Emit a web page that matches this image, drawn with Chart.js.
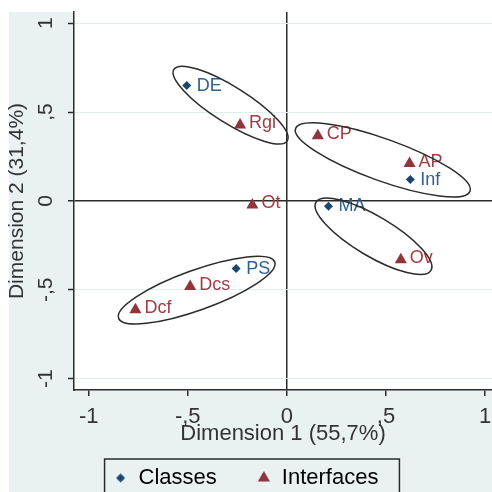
<!DOCTYPE html>
<html>
<head>
<meta charset="utf-8">
<script src="https://cdn.jsdelivr.net/npm/chart.js@4/dist/chart.umd.min.js"></script>
<style>
  html, body { margin: 0; padding: 0; background: #fff; }
  #wrap { width: 492px; height: 492px; position: relative; }
</style>
</head>
<body>
<div id="wrap"><canvas id="grafico"></canvas></div>
<script>
const classLabels = ["DE", "Inf", "MA", "PS"];
const classX = [-0.505, 0.623, 0.210, -0.256];
const classY = [0.649, 0.120, -0.030, -0.381];

const interfaceLabels = ["Rgi", "CP", "AP", "Ot", "Ov", "Dcs", "Dcf"];
const interfaceX = [-0.236, 0.156, 0.619, -0.174, 0.575, -0.488, -0.764];
const interfaceY = [0.427, 0.367, 0.210, -0.023, -0.331, -0.481, -0.612];

const tickValues = [-1, -0.5, 0, 0.5, 1];

// grupos circulados: centro, meio eixo maior (vetor), meio eixo menor
const ellipseCX = [-0.284, 0.484, 0.437, -0.455];
const ellipseCY = [0.539, 0.231, -0.199, -0.502];
const ellipseAX = [0.286, 0.440, 0.290, 0.394];
const ellipseAY = [-0.201, -0.176, -0.192, 0.158];
const ellipseB = [0.091, 0.106, 0.101, 0.101];

const FONT = "'Liberation Sans', Arial, sans-serif";
const AXIS = "#2b2b2b";
const TEXT = "#333";
const BLUE = "#1a476f";
const RED = "#90353b";

const fmt = v => v === 0 ? "0" : String(v).replace("0.", ",");
const setTicks = s => { s.ticks = tickValues.map(v => ({ value: v })); };
const isZero = c => c.tick && c.tick.value === 0;

function legendIcon(style, color, radius) {
  const c = document.createElement("canvas");
  const size = Math.ceil(radius * 2 + 2);
  c.width = size;
  c.height = size;
  const g = c.getContext("2d");
  g.fillStyle = color;
  Chart.helpers.drawPoint(g, { pointStyle: style, radius, rotation: 0, borderWidth: 0 }, size / 2, size / 2);
  return c;
}

const fundo = {
  id: "fundo",
  beforeDraw(chart) {
    const { ctx, width, height, chartArea: a } = chart;
    ctx.save();
    ctx.fillStyle = "#fff";
    ctx.fillRect(0, 0, width, height);
    ctx.fillStyle = "#eaf1f3";
    ctx.fillRect(9, 12, width - 9, height - 12);
    ctx.fillStyle = "#fff";
    ctx.fillRect(a.left, a.top, a.right - a.left, a.bottom - a.top);
    ctx.restore();
  }
};

const rotulos = {
  id: "rotulos",
  afterDatasetsDraw(chart) {
    const ctx = chart.ctx;
    const xs = chart.scales.x, ys = chart.scales.y;
    ctx.save();
    ctx.font = "18px " + FONT;
    ctx.textBaseline = "middle";
    ctx.textAlign = "left";
    chart.data.datasets.forEach((ds, i) => {
      const names = i === 0 ? classLabels : interfaceLabels;
      ctx.fillStyle = i === 0 ? "#2e5f92" : "#a33c44";
      const dx = i === 0 ? 10 : 9;
      const dy = i === 0 ? 0 : -1.5;
      chart.getDatasetMeta(i).data.forEach((pt, j) => {
        ctx.fillText(names[j], pt.x + dx, pt.y + dy);
      });
    });

    // elipses dos grupos
    ctx.strokeStyle = AXIS;
    ctx.lineWidth = 1.5;
    ellipseCX.forEach((cx, k) => {
      const px = xs.getPixelForValue(cx);
      const py = ys.getPixelForValue(ellipseCY[k]);
      const ex = xs.getPixelForValue(cx + ellipseAX[k]);
      const ey = ys.getPixelForValue(ellipseCY[k] + ellipseAY[k]);
      const a = Math.hypot(ex - px, ey - py);
      const b = Math.abs(xs.getPixelForValue(ellipseB[k]) - xs.getPixelForValue(0));
      ctx.beginPath();
      ctx.ellipse(px, py, a, b, Math.atan2(ey - py, ex - px), 0, Math.PI * 2);
      ctx.stroke();
    });
    ctx.restore();
  }
};

const moldura = {
  id: "moldura",
  afterDraw(chart) {
    const boxes = chart.legend && chart.legend.legendHitBoxes;
    if (!boxes || !boxes.length) return;
    const first = boxes[0];
    const last = boxes[boxes.length - 1];
    const ctx = chart.ctx;
    const left = first.left - 9;
    ctx.save();
    ctx.strokeStyle = AXIS;
    ctx.lineWidth = 1.5;
    ctx.strokeRect(left, first.top - 8, last.left + last.width + 21 - left, 60);
    ctx.restore();
  }
};

const icons = [legendIcon("rectRot", BLUE, 4.5), legendIcon("triangle", RED, 7)];

new Chart(document.getElementById("grafico"), {
  type: "scatter",
  data: {
    datasets: [
      {
        label: "Classes",
        data: classX.map((x, i) => ({ x, y: classY[i] })),
        pointStyle: "rectRot",
        pointRadius: 4.5,
        backgroundColor: BLUE,
        borderColor: BLUE,
        pointBorderWidth: 0
      },
      {
        label: "Interfaces",
        data: interfaceX.map((x, i) => ({ x, y: interfaceY[i] })),
        pointStyle: "triangle",
        pointRadius: 7,
        backgroundColor: RED,
        borderColor: RED,
        pointBorderWidth: 0
      }
    ]
  },
  options: {
    responsive: true,
    maintainAspectRatio: false,
    animation: false,
    events: [],
    layout: { autoPadding: false, padding: { top: 12, right: 0, bottom: -7, left: 0 } },
    plugins: {
      tooltip: { enabled: false },
      legend: {
        position: "bottom",
        labels: {
          usePointStyle: true,
          pointStyleWidth: 14,
          boxHeight: 14,
          padding: 40,
          color: TEXT,
          font: { family: FONT, size: 22 },
          generateLabels: chart => chart.data.datasets.map((ds, i) => ({
            text: ds.label,
            pointStyle: icons[i],
            fillStyle: ds.backgroundColor,
            strokeStyle: ds.backgroundColor,
            lineWidth: 0,
            hidden: false,
            datasetIndex: i
          }))
        }
      }
    },
    scales: {
      x: {
        type: "linear",
        min: -1.074,
        max: 1.035,
        afterBuildTicks: setTicks,
        afterFit: s => { s.height = 37; s.paddingLeft = 0; s.paddingRight = 0; },
        ticks: {
          font: { family: FONT, size: 22 },
          color: TEXT,
          padding: 8,
          maxRotation: 0,
          autoSkip: false,
          callback: v => fmt(v)
        },
        grid: {
          color: c => isZero(c) ? AXIS : "rgba(0,0,0,0)",
          lineWidth: 1.5,
          tickColor: AXIS,
          tickWidth: 1.5,
          tickLength: 6
        },
        border: { display: true, color: AXIS, width: 1.5 },
        title: {
          display: true,
          text: "Dimension 1 (55,7%)",
          color: TEXT,
          font: { family: FONT, size: 22 },
          padding: { top: 0, bottom: -20 }
        }
      },
      y: {
        type: "linear",
        min: -1.064,
        max: 1.063,
        afterBuildTicks: setTicks,
        afterFit: s => { s.width = 74; s.paddingTop = 0; s.paddingBottom = 0; },
        ticks: {
          font: { family: FONT, size: 21 },
          color: TEXT,
          padding: 10,
          crossAlign: "center",
          minRotation: 90,
          maxRotation: 90,
          autoSkip: false,
          callback: v => fmt(v)
        },
        grid: {
          color: c => isZero(c) ? AXIS : "#e3edee",
          lineWidth: c => isZero(c) ? 1.5 : 1,
          tickColor: AXIS,
          tickWidth: 1.5,
          tickLength: 6
        },
        border: { display: true, color: AXIS, width: 1.5 },
        title: {
          display: true,
          text: "Dimension 2 (31,4%)",
          color: TEXT,
          font: { family: FONT, size: 21 },
          padding: { top: 5, bottom: 0 }
        }
      }
    }
  },
  plugins: [fundo, rotulos, moldura]
});
</script>
</body>
</html>
